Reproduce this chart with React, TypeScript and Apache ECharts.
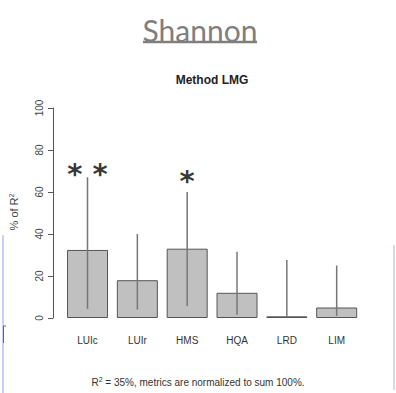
import React, { useEffect, useRef } from "react";
import * as echarts from "echarts";

// Relative importance of each metric (LMG method), in % of R²
const categories = ["LUIc", "LUIr", "HMS", "HQA", "LRD", "LIM"];
const shares = [32.4, 18, 33, 12, 0.8, 5];
const ciLower = [4.3, 4, 5.7, 1.5, 0.5, 1];
const ciUpper = [67, 40, 60, 31.5, 27.6, 25];
const marks = ["* *", "", "*", "", "", ""];
const markLevels = [70.7, 0, 67, 0, 0, 0];
const yTicks = [0, 20, 40, 60, 80, 100];

export default function App() {
  const ref = useRef<HTMLDivElement>(null);

  useEffect(() => {
    if (!ref.current) return;
    const chart = echarts.init(ref.current, null, { renderer: "svg" });

    const errData = categories.map((c, i) => [i, ciLower[i], ciUpper[i]]);
    const markData = categories
      .map((c, i) => ({ i, t: marks[i], v: markLevels[i] }))
      .filter((d) => d.t !== "")
      .map((d) => ({ value: [d.i, d.v], label: { formatter: d.t } }));

    chart.setOption({
      animation: false,
      backgroundColor: "#ffffff",
      grid: { left: 62.6, top: 108, width: 299, height: 210 },
      xAxis: {
        type: "category",
        data: categories,
        axisLine: { show: false },
        axisTick: { show: false },
        axisLabel: {
          margin: 17,
          fontFamily: "Liberation Sans",
          fontSize: 10,
          color: "#333",
        },
      },
      yAxis: {
        type: "value",
        min: 0,
        max: 100,
        interval: 20,
        offset: 9.6,
        splitLine: { show: false },
        axisLine: { show: true, lineStyle: { color: "#555", width: 1 } },
        axisTick: { show: true, length: 5, lineStyle: { color: "#555" } },
        axisLabel: {
          rotate: 90,
          margin: 9,
          fontFamily: "Liberation Sans",
          fontSize: 10,
          color: "#444",
          formatter: (v: number) => (yTicks.includes(v) ? String(v) : ""),
        },
      },
      series: [
        {
          type: "bar",
          data: shares,
          barWidth: 41,
          itemStyle: { color: "#c0c0c0", borderColor: "#555", borderWidth: 1 },
        },
        {
          type: "custom",
          data: errData,
          z: 5,
          renderItem: (params: any, api: any) => {
            const lo = api.coord([api.value(0), api.value(1)]);
            const hi = api.coord([api.value(0), api.value(2)]);
            return {
              type: "line",
              shape: { x1: lo[0], y1: lo[1], x2: hi[0], y2: hi[1] },
              style: { stroke: "#777", lineWidth: 1.5 },
            };
          },
        },
        {
          type: "scatter",
          data: markData,
          symbolSize: 0,
          z: 6,
          label: {
            show: true,
            position: "inside",
            fontFamily: "DejaVu Sans",
            fontWeight: "bold",
            fontSize: 29,
            offset: [0, 4],
            color: "#000",
          },
        },
      ],
      graphic: [
        {
          type: "text",
          x: 200,
          y: 30,
          style: {
            text: "Shannon",
            fontFamily: "Lato",
            fontSize: 30,
            fill: "#7f7f7f",
            textAlign: "center",
            textVerticalAlign: "middle",
          },
        },
        {
          type: "line",
          shape: { x1: 143, y1: 42, x2: 257, y2: 42 },
          style: { stroke: "#7f7f7f", lineWidth: 2.5 },
        },
        {
          type: "text",
          x: 212,
          y: 80,
          style: {
            text: "Method LMG",
            fontFamily: "Liberation Sans",
            fontWeight: "bold",
            fontSize: 12,
            fill: "#222",
            textAlign: "center",
            textVerticalAlign: "middle",
          },
        },
        {
          type: "text",
          x: 14,
          y: 212,
          rotation: Math.PI / 2,
          style: {
            text: "% of R{sup|2}",
            fontFamily: "Liberation Sans",
            fontSize: 11,
            fill: "#444",
            textAlign: "center",
            textVerticalAlign: "middle",
            rich: {
              sup: { fontSize: 7, verticalAlign: "top", padding: [0, 0, 5, 0], fill: "#444" },
            },
          },
        },
        {
          type: "text",
          x: 198,
          y: 382,
          style: {
            text: "R{sup|2} = 35%, metrics are normalized to sum 100%.",
            fontFamily: "Liberation Sans",
            fontSize: 10,
            fill: "#333",
            textAlign: "center",
            textVerticalAlign: "middle",
            rich: {
              sup: { fontSize: 7, verticalAlign: "top", padding: [0, 0, 5, 0], fill: "#333" },
            },
          },
        },
        {
          type: "line",
          shape: { x1: 3, y1: 235, x2: 3, y2: 393 },
          style: { stroke: "#c9d0f2", lineWidth: 2 },
        },
        {
          type: "line",
          shape: { x1: 394, y1: 245, x2: 394, y2: 390 },
          style: { stroke: "#d4d9f2", lineWidth: 2 },
        },
        {
          type: "polyline",
          shape: { points: [[6, 326], [3.5, 326], [3.5, 343]] },
          style: { stroke: "#666", lineWidth: 1, fill: "none" },
        },
      ],
    });

    return () => chart.dispose();
  }, []);

  return (
    <div
      ref={ref}
      style={{ position: "absolute", left: 0, top: 0, width: 396, height: 393 }}
    />
  );
}
